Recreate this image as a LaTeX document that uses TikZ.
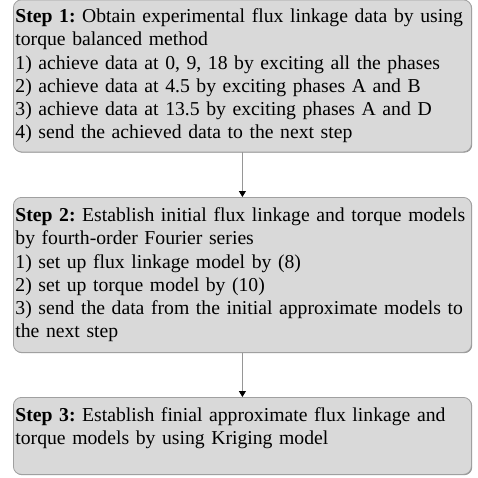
\documentclass[tikz,border=0pt]{standalone}
\usepackage{fontspec}
\setmainfont{Liberation Serif}
\usetikzlibrary{arrows.meta,shadows}
\definecolor{boxfill}{RGB}{217,217,217}
\definecolor{boxline}{RGB}{160,160,160}
\definecolor{shadowgray}{RGB}{120,120,120}
\definecolor{linkgray}{RGB}{150,150,150}
\newcommand{\stepfont}{\fontsize{19.7}{23.3}\selectfont\frenchspacing\hyphenpenalty=10000\relax}
\begin{document}
\begin{tikzpicture}[x=1pt,y=1pt,
  stepbox/.style={draw=boxline, line width=0.8pt, fill=boxfill, rounded corners=8pt,
    anchor=north west, minimum width=458pt, text width=454pt, inner xsep=2pt, inner ysep=2pt,
    align=left, font=\stepfont,
    drop shadow={shadow xshift=0.8pt, shadow yshift=-0.8pt, fill=shadowgray, opacity=0.8}},
  link/.style={draw=linkgray, line width=0.8pt, -{Triangle[width=7pt,length=6pt,color=black]}}]
\useasboundingbox (0,0) rectangle (478,-477);
\node[stepbox, minimum height=152pt] (s1) at (13,0.5) {\textbf{Step 1:} Obtain experimental flux linkage data by using\\torque balanced method\\1) achieve data at 0, 9, 18 by exciting all the phases\\2) achieve data at 4.5 by exciting phases A and B\\3) achieve data at 13.5 by exciting phases A and D\\4) send the achieved data to the next step};
\node[stepbox, minimum height=155pt] (s2) at (13,-197) {\textbf{Step 2:} Establish initial flux linkage and torque models\\by fourth-order Fourier series\\1) set up flux linkage model by (8)\\2) set up torque model by (10)\\3) send the data from the initial approximate models to\\the next step};
\node[stepbox, minimum height=77pt] (s3) at (13,-397) {\textbf{Step 3:} Establish finial approximate flux linkage and\\torque models by using Kriging model\\[-4pt]\rule{0pt}{5pt}};
\draw[link] (s1.south) -- (s2.north);
\draw[link] (s2.south) -- (s3.north);
\end{tikzpicture}
\end{document}
